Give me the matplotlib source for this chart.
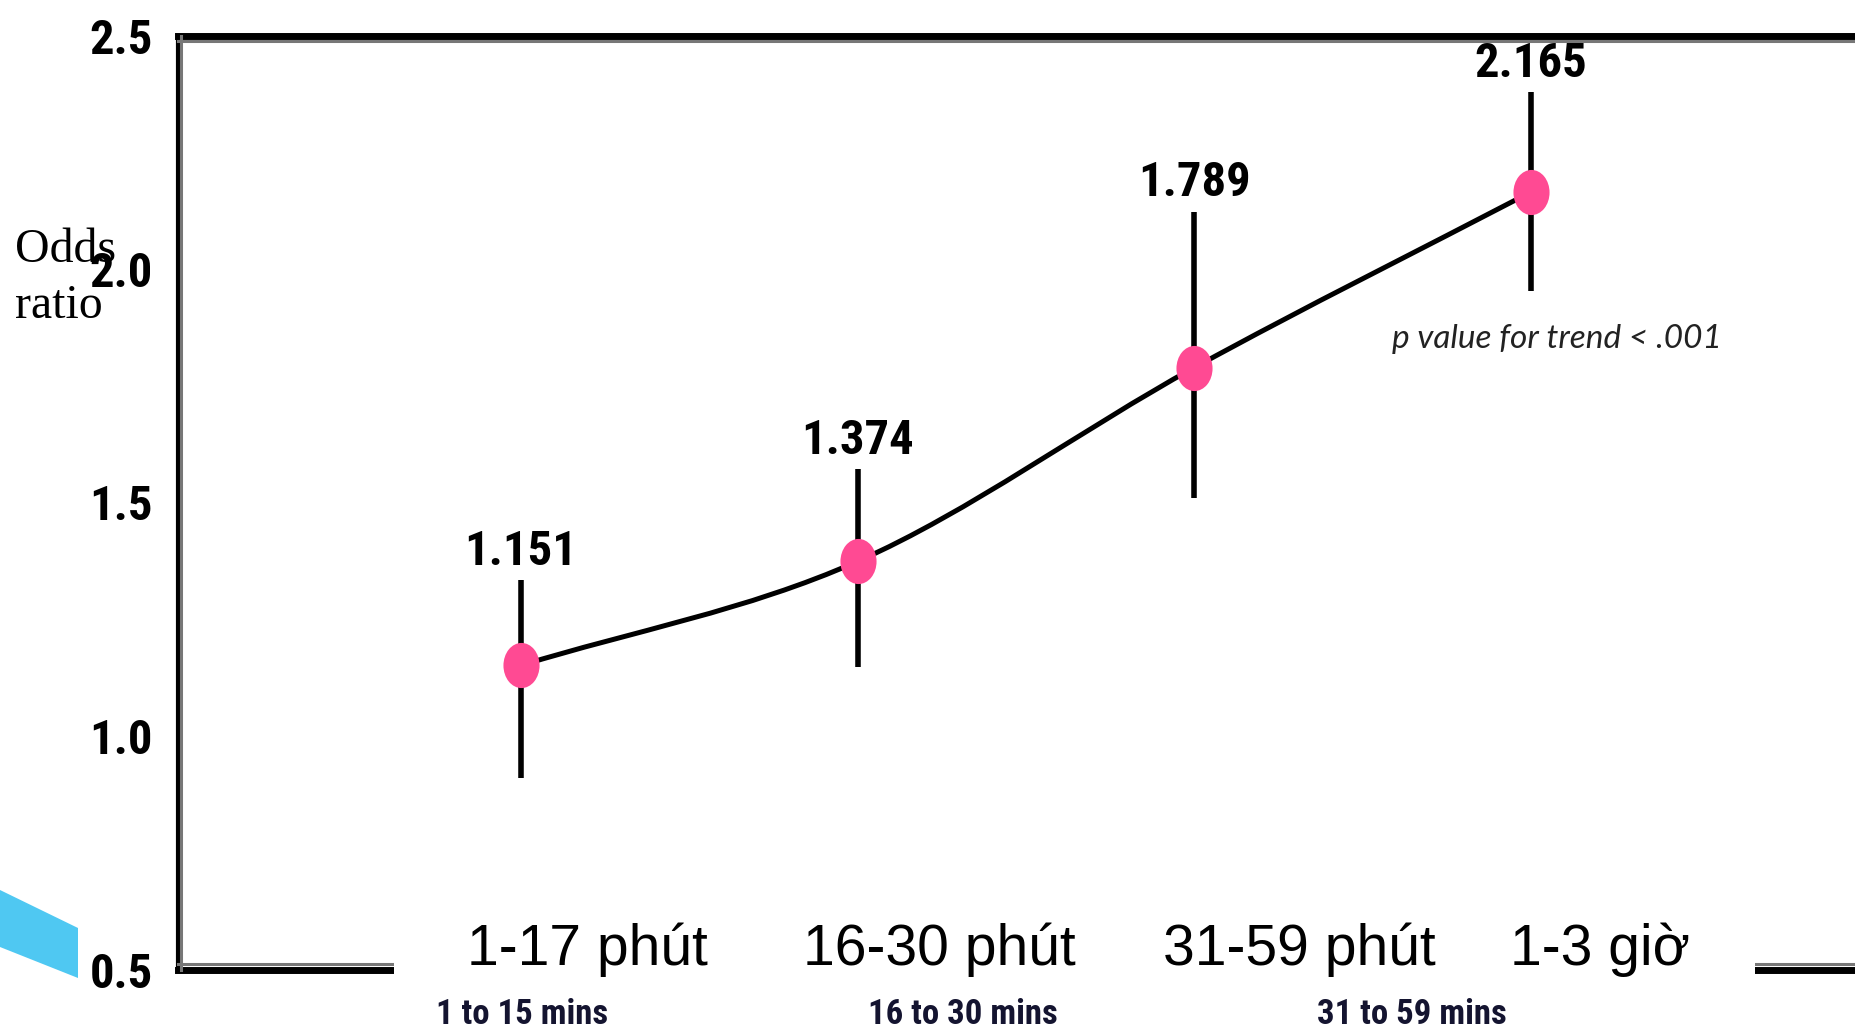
import numpy as np
import matplotlib
matplotlib.use("Agg")
import matplotlib.pyplot as plt
from matplotlib import font_manager as fm
from matplotlib.path import Path
from matplotlib.patches import PathPatch, Rectangle, Polygon
from matplotlib.transforms import Affine2D

# ---------------- data ----------------
categories = ["1-17 phút", "16-30 phút", "31-59 phút", "1-3 giờ"]
subcategories = ["1 to 15 mins", "16 to 30 mins", "31 to 59 mins"]
odds_ratio = [1.151, 1.374, 1.789, 2.165]
ci_lower = [0.909, 1.147, 1.509, 1.952]
ci_upper = [1.334, 1.571, 2.123, 2.378]
y_ticks = [0.5, 1.0, 1.5, 2.0, 2.5]
y_tick_labels = ["0.5", "1.0", "1.5", "2.0", "2.5"]
trend_note = "p value for trend < .001"
y_label_lines = ["Odds", "ratio"]

# ---------------- fonts ----------------
COND_STRETCH = ("condensed", "semi-condensed", "extra-condensed", "ultra-condensed")


def _is_bold(w):
    if isinstance(w, (int, float)):
        return w >= 600
    return str(w).lower() in ("bold", "semibold", "demibold", "heavy", "extra bold", "black", "demi")


def find_condensed_bold():
    found = []
    for f in fm.fontManager.ttflist:
        nm = f.name.lower()
        cond = ("narrow" in nm or "condensed" in nm or str(f.stretch) in COND_STRETCH
                or (isinstance(f.stretch, int) and f.stretch < 500))
        if cond and _is_bold(f.weight) and f.style == "normal":
            rank = 50
            if "liberation sans narrow" in nm:
                rank = 0
            elif "arial narrow" in nm:
                rank = 1
            elif "roboto condensed" in nm:
                rank = 2
            elif "noto sans" in nm and "extra" not in nm and "semi" not in nm:
                rank = 3
            elif "dejavu sans" in nm:
                rank = 4
            elif "open sans" in nm:
                rank = 5
            if "extra" in nm or "ultra" in nm:
                rank += 20
            found.append((rank, f.fname))
    if found:
        found.sort()
        return fm.FontProperties(fname=found[0][1])
    return None


COND = find_condensed_bold()
if COND is None:
    COND = fm.FontProperties(family="Liberation Sans", weight="bold")
_names = {f.name for f in fm.fontManager.ttflist}
SANS = "Liberation Sans"
SERIF = "Liberation Serif"
ITAL = "Lato" if "Lato" in _names else "DejaVu Sans"


def cond(size):
    p = COND.copy()
    p.set_size(size)
    return p


W, H = 1856, 1028
fig = plt.figure(figsize=(W / 100, H / 100), dpi=100)
fig.patch.set_facecolor("white")

left = 178 / W
bottom = (H - 969.5) / H
top = (H - 35.5) / H
right = 1.05
rect = [left, bottom, right - left, top - bottom]

ax = fig.add_axes(rect)
ax.set_facecolor("none")
x = np.arange(len(odds_ratio), dtype=float)
ax.set_xlim(-1.0187, 4.2406)
ax.set_ylim(0.5, 2.5)

for s in ["top", "bottom"]:
    ax.spines[s].set_linewidth(5.0)
    ax.spines[s].set_color("black")
ax.spines["left"].set_linewidth(3.0)
ax.spines["left"].set_color("black")
ax.spines["right"].set_visible(False)

ax.set_yticks(y_ticks)
ax.set_yticklabels(y_tick_labels)
ax.set_xticks([])
ax.tick_params(axis="y", length=0, pad=18)
for lab in ax.get_yticklabels():
    lab.set_fontproperties(cond(35))

# gray inner edge of the frame (overlay axes)
ax2 = fig.add_axes(rect)
ax2.set_facecolor("none")
ax2.set_xticks([])
ax2.set_yticks([])
ax2.spines["right"].set_visible(False)
for s, off in [("top", -3.6), ("bottom", -4.0), ("left", -2.2)]:
    ax2.spines[s].set_color("#777777")
    ax2.spines[s].set_linewidth(2.2)
    ax2.spines[s].set_position(("outward", off))

# smooth curve through the points (Catmull-Rom as cubic Bezier)
pts = np.column_stack([x, odds_ratio])
n = len(pts)
tang = np.zeros_like(pts)
tang[0] = pts[1] - pts[0]
tang[-1] = pts[-1] - pts[-2]
for i in range(1, n - 1):
    tang[i] = (pts[i + 1] - pts[i - 1]) / 2.0
verts = [tuple(pts[0])]
codes = [Path.MOVETO]
for i in range(n - 1):
    c1 = pts[i] + tang[i] / 3.0
    c2 = pts[i + 1] - tang[i + 1] / 3.0
    verts += [tuple(c1), tuple(c2), tuple(pts[i + 1])]
    codes += [Path.CURVE4] * 3
curve = PathPatch(Path(verts, codes), facecolor="none", edgecolor="black",
                  lw=3.6, zorder=2, capstyle="butt")
ax.add_patch(curve)

# error bars
ax.vlines(x, ci_lower, ci_upper, colors="black", lw=4.0, zorder=3)

# markers (slightly tall ellipse)
ell = Path.unit_circle().transformed(Affine2D().scale(0.8, 1.0))
ax.plot(x, odds_ratio, linestyle="none", marker=ell, markersize=32.5,
        markerfacecolor="#FF4A93", markeredgewidth=0, zorder=4)

# value labels
for xi, v, up in zip(x, odds_ratio, ci_upper):
    ax.annotate(f"{v:.3f}", xy=(xi, up), xytext=(0, 11), textcoords="offset points",
                ha="center", va="baseline", fontproperties=cond(35),
                color="black", zorder=5)

# white patch interrupting the bottom frame behind the category labels
fig.patches.append(Rectangle((394 / W, (H - 988) / H), (1755 - 394) / W, 40 / H,
                             transform=fig.transFigure, facecolor="white",
                             edgecolor="none", zorder=1))

# blue decoration at bottom-left
blue_xy = np.array([[0, 890], [78, 928], [78, 978], [0, 947]], dtype=float)
blue_xy[:, 0] /= W
blue_xy[:, 1] = (H - blue_xy[:, 1]) / H
fig.patches.append(Polygon(blue_xy, closed=True, transform=fig.transFigure,
                           facecolor="#4FC8F2", edgecolor="none", zorder=1))

# category labels
cat_x = [587.5, 939.5, 1299, 1600]
for cx, lab in zip(cat_x, categories):
    fig.text(cx / W, (H - 965) / H, lab, ha="center", va="baseline",
             fontsize=41, fontfamily=SANS, color="black", zorder=3)

sub_x = [522, 963, 1412]
for sx, lab in zip(sub_x, subcategories):
    fig.text(sx / W, (H - 1024) / H, lab, ha="center", va="baseline",
             fontproperties=cond(25), color="#141430", zorder=3)

# trend note
fig.text(1392 / W, (H - 348) / H, trend_note, ha="left", va="baseline",
         fontsize=24, fontstyle="italic", fontfamily=ITAL, color="#222222")

# y label
fig.text(15 / W, (H - 262) / H, y_label_lines[0], ha="left", va="baseline",
         fontsize=34.5, fontfamily=SERIF, color="black", zorder=3)
fig.text(15 / W, (H - 318) / H, y_label_lines[1], ha="left", va="baseline",
         fontsize=34.5, fontfamily=SERIF, color="black", zorder=3)

fig.savefig("out.png", dpi=100, facecolor="white")
